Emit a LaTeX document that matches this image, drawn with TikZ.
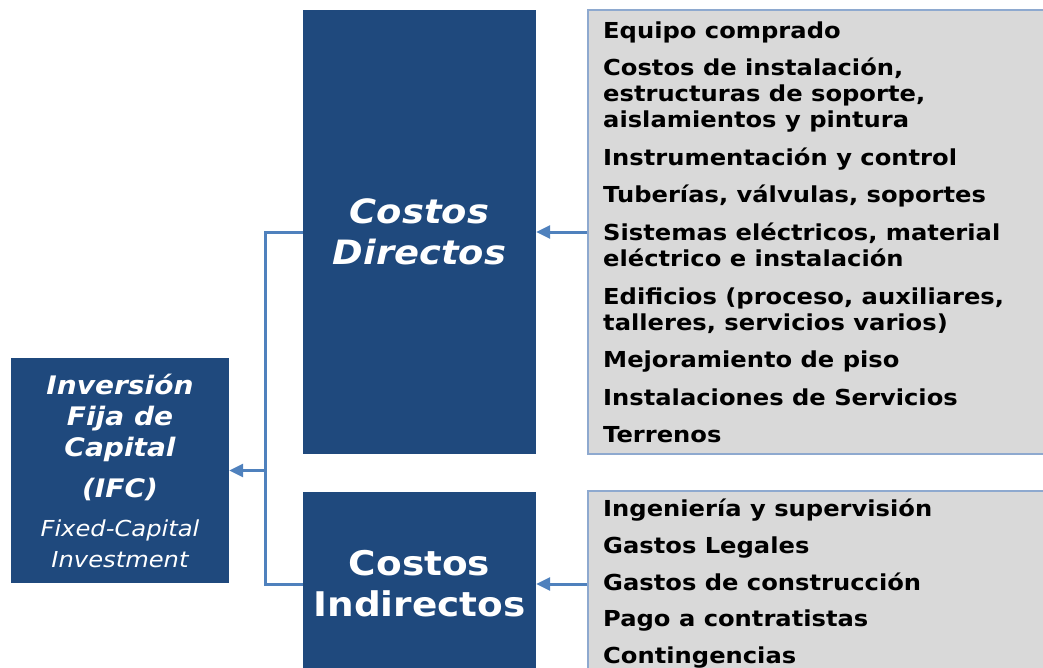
\documentclass[tikz,border=0pt]{standalone}
\usepackage{fontspec}
\setmainfont[FakeStretch=1.1]{DejaVu Sans}
\usetikzlibrary{positioning, arrows.meta}
\definecolor{ifcblue}{HTML}{1F497D}
\definecolor{linkblue}{HTML}{4F81BD}
\definecolor{listgray}{HTML}{D9D9D9}
\definecolor{listedge}{HTML}{8EA9CF}
\newcommand{\engsub}{\fontsize{22}{27}\selectfont\mdseries}
\tikzset{
  bigbox/.style={fill=ifcblue, text=white, align=center, inner sep=0pt},
  listbox/.style={fill=listgray, draw=listedge, line width=1.5pt, inner sep=0pt},
  item/.style={anchor=base west, inner sep=0pt, font=\fontsize{22}{26}\selectfont\bfseries},
  link/.style={draw=linkblue, line width=3pt},
  feed/.style={link, -{Triangle[length=14pt,width=13pt]}},
}
\begin{document}
\begin{tikzpicture}[x=1pt, y=-1pt]
	\useasboundingbox (0,0) rectangle (1043,667);
	\clip (0,0) rectangle (1043,667);
	
	\node[bigbox, minimum width=218pt, minimum height=225pt,
		font=\fontsize{25.5}{31}\selectfont\bfseries\itshape] (ifc) at (120,470.5)
		{Inversión\\Fija de\\Capital\\[10pt](IFC)\\[8pt]{\engsub Fixed-Capital}\\{\engsub Investment}};
	\node[bigbox, minimum width=233pt, minimum height=444pt,
		font=\fontsize{33.5}{41}\selectfont\bfseries\itshape] (directos) at (419.5,232) {Costos\\Directos};
	\node[bigbox, minimum width=233pt, minimum height=184pt,
		font=\fontsize{34}{41}\selectfont\bfseries] (indirectos) at (419.5,584) {Costos\\Indirectos};
	
	\node[listbox, minimum width=480pt, minimum height=444pt] (listdir) at (828,232) {};
	\node[listbox, minimum width=480pt, minimum height=186pt] (listind) at (828,584) {};
	
	\foreach \y/\t [count=\i] in {38/Equipo comprado, 75.6/{Costos de instalación,},
		101.6/{estructuras de soporte,}, 127.6/aislamientos y pintura,
		165.2/Instrumentación y control, 202.8/{Tuberías, válvulas, soportes},
		240.4/{Sistemas eléctricos, material}, 266.4/eléctrico e instalación,
		304/{Edificios (proceso, auxiliares,}, 330/{talleres, servicios varios)},
		367.6/Mejoramiento de piso, 405.2/Instalaciones de Servicios, 442.8/Terrenos}
		\node[item] (d\i) at (603,\y) {\t};
	\foreach \y/\t [count=\i] in {516.7/Ingeniería y supervisión, 553.3/Gastos Legales,
		590/Gastos de construcción, 626.7/Pago a contratistas, 663.3/Contingencias}
		\node[item] (n\i) at (603,\y) {\t};
	
	\coordinate (fork) at (265,470.5);
	\draw[link] (directos.west) -| (fork) |- (indirectos.west);
	\draw[feed] (fork) -- (ifc.east);
	\draw[feed] (listdir.west) -- (directos.east);
	\draw[feed] (listind.west) -- (indirectos.east);
\end{tikzpicture}
\end{document}
